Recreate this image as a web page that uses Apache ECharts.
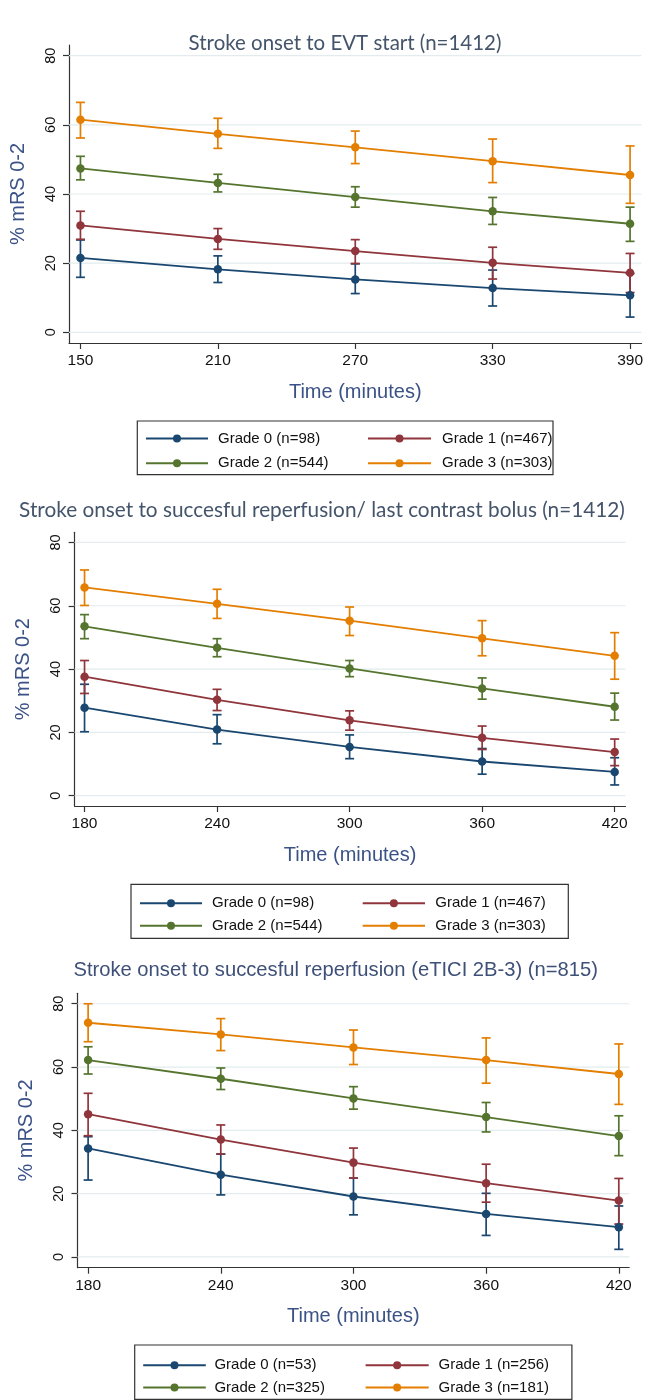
<!DOCTYPE html>
<html><head><meta charset="utf-8">
<script src="https://cdn.jsdelivr.net/npm/echarts@6/dist/echarts.min.js"></script>
<style>html,body{margin:0;padding:0;background:#fff}#c{width:646px;height:1400px}</style>
</head><body><div id="c"></div>
<script>
// ---------- DATA ----------
const titles = [
  'Stroke onset to EVT start (n=1412)',
  'Stroke onset to succesful reperfusion/ last contrast bolus (n=1412)',
  'Stroke onset to succesful reperfusion (eTICI 2B-3) (n=815)'
];
const yAxisTitle = '% mRS 0-2';
const xAxisTitle = 'Time (minutes)';
const xTicks1 = [150, 210, 270, 330, 390];
const xTicks23 = [180, 240, 300, 360, 420];
const yTicks = [0, 20, 40, 60, 80];
const names12 = ['Grade 0 (n=98)', 'Grade 1 (n=467)', 'Grade 2 (n=544)', 'Grade 3 (n=303)'];
const names3 = ['Grade 0 (n=53)', 'Grade 1 (n=256)', 'Grade 2 (n=325)', 'Grade 3 (n=181)'];

// Panel 1
const p1_g0_mean = [21.5, 18.2, 15.3, 12.8, 10.7];
const p1_g0_lo   = [15.9, 14.4, 11.2, 7.6, 4.4];
const p1_g0_hi   = [26.7, 22.1, 19.8, 18.0, 17.0];
const p1_g1_mean = [30.9, 27.0, 23.5, 20.1, 17.2];
const p1_g1_lo   = [26.9, 24.0, 19.9, 15.4, 11.5];
const p1_g1_hi   = [35.0, 30.0, 26.8, 24.6, 22.8];
const p1_g2_mean = [47.4, 43.2, 39.1, 35.0, 31.4];
const p1_g2_lo   = [44.1, 40.6, 36.2, 31.2, 26.3];
const p1_g2_hi   = [50.9, 45.7, 42.1, 39.0, 36.2];
const p1_g3_mean = [61.5, 57.4, 53.5, 49.5, 45.5];
const p1_g3_lo   = [56.2, 53.2, 48.8, 43.3, 37.3];
const p1_g3_hi   = [66.5, 61.9, 58.2, 55.9, 53.9];

// Panel 2
const p2_g0_mean = [27.8, 20.9, 15.4, 10.8, 7.5];
const p2_g0_lo   = [20.2, 16.4, 11.7, 6.8, 3.4];
const p2_g0_hi   = [35.2, 25.6, 19.2, 14.9, 12.0];
const p2_g1_mean = [37.6, 30.3, 23.8, 18.3, 13.8];
const p2_g1_lo   = [32.3, 26.9, 20.7, 14.6, 9.5];
const p2_g1_hi   = [42.7, 33.6, 26.8, 22.0, 17.9];
const p2_g2_mean = [53.5, 46.7, 40.2, 33.9, 28.1];
const p2_g2_lo   = [49.6, 43.9, 37.6, 30.5, 23.9];
const p2_g2_hi   = [57.2, 49.6, 42.7, 37.2, 32.4];
const p2_g3_mean = [65.8, 60.6, 55.3, 49.7, 44.2];
const p2_g3_lo   = [60.1, 56.0, 50.6, 44.2, 36.8];
const p2_g3_hi   = [71.3, 65.2, 59.6, 55.3, 51.5];

// Panel 3
const p3_g0_mean = [34.3, 26.0, 19.1, 13.6, 9.4];
const p3_g0_lo   = [24.3, 19.6, 13.3, 6.8, 2.4];
const p3_g0_hi   = [38.0, 32.5, 24.9, 20.1, 16.1];
const p3_g1_mean = [45.1, 37.1, 29.8, 23.3, 17.8];
const p3_g1_lo   = [38.3, 32.5, 24.9, 17.3, 10.4];
const p3_g1_hi   = [51.7, 41.7, 34.4, 29.3, 24.8];
const p3_g2_mean = [62.2, 56.3, 50.1, 44.2, 38.2];
const p3_g2_lo   = [57.8, 52.9, 46.7, 39.5, 32.0];
const p3_g2_hi   = [66.4, 59.7, 53.8, 48.8, 44.6];
const p3_g3_mean = [74.0, 70.3, 66.2, 62.2, 57.8];
const p3_g3_lo   = [68.0, 65.2, 60.8, 54.9, 48.2];
const p3_g3_hi   = [80.0, 75.3, 71.7, 69.2, 67.3];

// ---------- BUILD ----------
const COLORS = ['#1a476f', '#90353b', '#55752f', '#e37e00'];
const panels = [
  { x: xTicks1, names: names12,
    mean: [p1_g0_mean, p1_g1_mean, p1_g2_mean, p1_g3_mean],
    lo: [p1_g0_lo, p1_g1_lo, p1_g2_lo, p1_g3_lo],
    hi: [p1_g0_hi, p1_g1_hi, p1_g2_hi, p1_g3_hi] },
  { x: xTicks23, names: names12,
    mean: [p2_g0_mean, p2_g1_mean, p2_g2_mean, p2_g3_mean],
    lo: [p2_g0_lo, p2_g1_lo, p2_g2_lo, p2_g3_lo],
    hi: [p2_g0_hi, p2_g1_hi, p2_g2_hi, p2_g3_hi] },
  { x: xTicks23, names: names3,
    mean: [p3_g0_mean, p3_g1_mean, p3_g2_mean, p3_g3_mean],
    lo: [p3_g0_lo, p3_g1_lo, p3_g2_lo, p3_g3_lo],
    hi: [p3_g0_hi, p3_g1_hi, p3_g2_hi, p3_g3_hi] }
];

// layout (pixels) per panel
const layouts = [
  { grid: { left: 69, top: 45, width: 574, height: 298 }, xr: [145, 395], yr: [-3.1, 83.1],
    title: { x: 345, y: 43, w: 313, fam: 'Lato, "Open Sans", sans-serif', color: '#44546a' },
    box: [137.3, 421, 553, 474.7], rows: [436, 460.7], cols: [[145, 207, 217], [367, 430, 441]] },
  { grid: { left: 74.6, top: 532.3, width: 550.9, height: 273.7 }, xr: [175.5, 424.9], yr: [-3.25, 83.2],
    title: { x: 322, y: 510.7, w: 606, fam: 'Lato, "Open Sans", sans-serif', color: '#44546a' },
    box: [131, 884.3, 568.3, 938.3], rows: [900.7, 923.3], cols: [[139, 201, 211], [361.7, 424, 434.3]] },
  { grid: { left: 77.5, top: 993.3, width: 551.7, height: 274.4 }, xr: [175.2, 424.7], yr: [-3.4, 83.3],
    title: { x: 335.7, y: 970, w: 525, fam: '"Liberation Sans Narrow", "Liberation Sans", Arial, sans-serif', color: '#3e5078' },
    box: [134.7, 1345, 571.9, 1399.3], rows: [1362.7, 1385], cols: [[142.2, 204.8, 213.4], [364.6, 427.7, 437.6]] }
];

const measureCtx = document.createElement('canvas').getContext('2d');
function fitSize(text, fam, target) {
  measureCtx.font = '100px ' + fam;
  return 100 * target / measureCtx.measureText(text).width;
}

const AX = '#333333';
const TITLE_AX = '#3b5287';
const grids = [], xAxes = [], yAxes = [], series = [], legends = [], graphics = [];

panels.forEach((p, i) => {
  const L = layouts[i];
  grids.push(Object.assign({ containLabel: false }, L.grid));
  xAxes.push({
    type: 'value', gridIndex: i, min: L.xr[0], max: L.xr[1],
    name: xAxisTitle, nameLocation: 'middle', nameGap: 39,
    nameTextStyle: { fontSize: 20, fontFamily: '"Liberation Sans", Arial', color: TITLE_AX },
    axisLine: { show: true, onZero: false, lineStyle: { color: AX, width: 1.2 } },
    axisTick: { show: true, length: 6, customValues: p.x, lineStyle: { color: AX, width: 1.2 } },
    axisLabel: { customValues: p.x, fontSize: 15.5, fontFamily: '"Liberation Sans", Arial', color: '#111', margin: 10 },
    splitLine: { show: false }
  });
  yAxes.push({
    type: 'value', gridIndex: i, min: L.yr[0], max: L.yr[1],
    name: yAxisTitle, nameLocation: 'middle', nameGap: 41,
    nameTextStyle: { fontSize: 20, fontFamily: '"Liberation Sans", Arial', color: TITLE_AX },
    axisLine: { show: true, onZero: false, lineStyle: { color: AX, width: 1.2 } },
    axisTick: { show: true, length: 6, customValues: yTicks, lineStyle: { color: AX, width: 1.2 } },
    axisLabel: { customValues: yTicks, rotate: 90, fontSize: 14.5, fontFamily: '"Liberation Sans", Arial', color: '#111', margin: 11 },
    splitLine: { show: false }
  });
  // gridlines
  series.push({
    type: 'custom', xAxisIndex: i, yAxisIndex: i, silent: true, z: 1,
    data: yTicks.map(v => [p.x[0], v]),
    renderItem: (params, api) => {
      const y = api.coord([api.value(0), api.value(1)])[1];
      const cs = params.coordSys;
      return { type: 'line', shape: { x1: cs.x, y1: y, x2: cs.x + cs.width, y2: y },
        style: { stroke: '#e2ebee', lineWidth: 1.2 } };
    }
  });
  // error bars
  p.mean.forEach((m, g) => {
    const col = COLORS[g];
    series.push({
      type: 'custom', name: 'ci' + i + '_' + g, xAxisIndex: i, yAxisIndex: i, z: 2, silent: true,
      encode: { x: 0, y: [1, 2] },
      data: p.x.map((x, k) => [x, p.lo[g][k], p.hi[g][k]]),
      renderItem: (params, api) => {
        const x = api.value(0);
        const a = api.coord([x, api.value(1)]);
        const b = api.coord([x, api.value(2)]);
        const hw = 4.5;
        const st = { stroke: col, lineWidth: 1.7 };
        return { type: 'group', children: [
          { type: 'line', shape: { x1: a[0], y1: a[1], x2: b[0], y2: b[1] }, style: st },
          { type: 'line', shape: { x1: a[0] - hw, y1: a[1], x2: a[0] + hw, y2: a[1] }, style: st },
          { type: 'line', shape: { x1: b[0] - hw, y1: b[1], x2: b[0] + hw, y2: b[1] }, style: st }
        ] };
      }
    });
  });
  // lines
  p.mean.forEach((m, g) => {
    series.push({
      type: 'line', name: p.names[g], xAxisIndex: i, yAxisIndex: i, z: 3,
      data: p.x.map((x, k) => [x, m[k]]),
      symbol: 'circle', symbolSize: 8.5, showSymbol: true,
      lineStyle: { color: COLORS[g], width: 1.8 },
      itemStyle: { color: COLORS[g] },
      emphasis: { disabled: true }
    });
  });
  // legends (2x2)
  p.names.forEach((nm, g) => {
    const r = Math.floor(g / 2), c = g % 2;
    const cc = L.cols[c];
    legends.push({
      data: [nm], left: cc[0], top: L.rows[r] - 5, padding: 0,
      itemWidth: cc[1] - cc[0], itemHeight: 10, selectedMode: false,
      textStyle: { fontSize: 15, fontFamily: '"Liberation Sans", Arial', color: '#111',
        padding: [0, 0, 0, Math.max(0, cc[2] - cc[1] - 5)] }
    });
  });
  // legend box
  graphics.push({
    type: 'rect', silent: true, z: -1,
    shape: { x: L.box[0], y: L.box[1], width: L.box[2] - L.box[0], height: L.box[3] - L.box[1] },
    style: { fill: '#fff', stroke: '#333333', lineWidth: 1.2 }
  });
  // title
  const fs = fitSize(titles[i], L.title.fam, L.title.w);
  graphics.push({
    type: 'text', x: L.title.x, y: L.title.y, silent: true,
    style: { text: titles[i], fontSize: fs, fontFamily: L.title.fam, fill: L.title.color,
      align: 'center', verticalAlign: 'middle' }
  });
});

const chart = echarts.init(document.getElementById('c'), null, { renderer: 'canvas' });
chart.setOption({
  animation: false,
  backgroundColor: '#fff',
  grid: grids, xAxis: xAxes, yAxis: yAxes,
  legend: legends, series: series, graphic: graphics
});
</script>
</body></html>
